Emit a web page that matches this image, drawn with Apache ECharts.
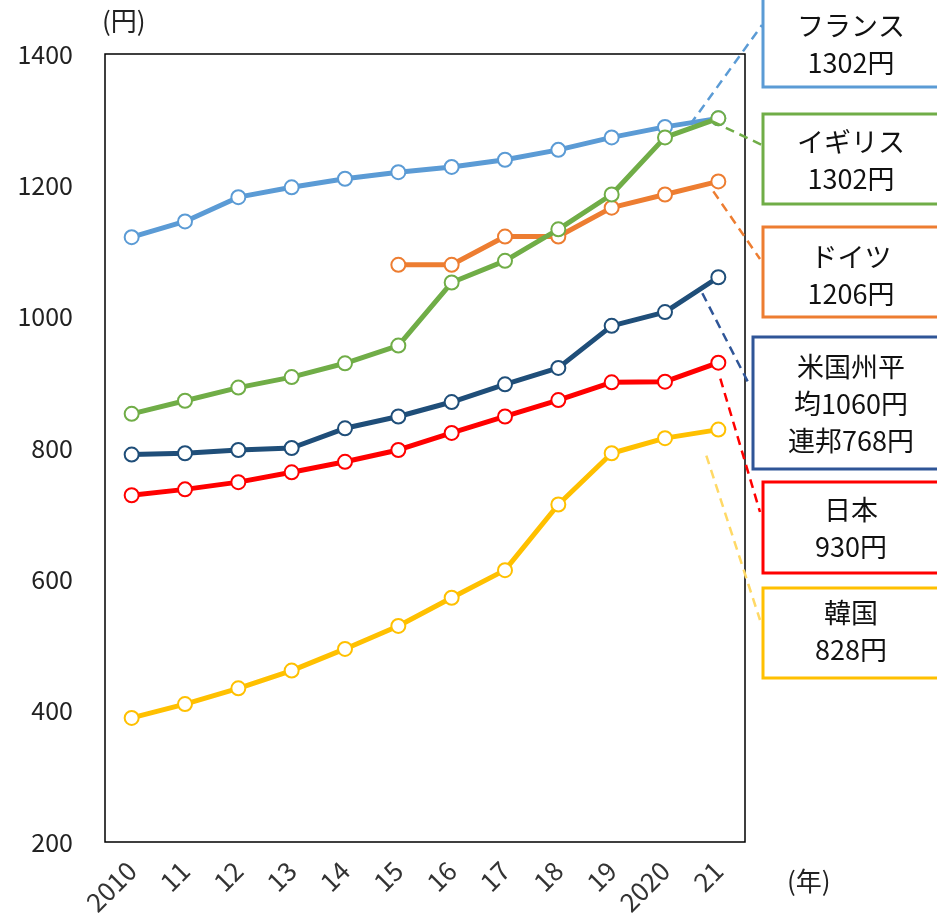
<!DOCTYPE html>
<html><head><meta charset="utf-8">
<script src="https://cdn.jsdelivr.net/npm/echarts@6/dist/echarts.min.js"></script>
<style>html,body{margin:0;padding:0;background:#fff}#c{width:937px;height:923px}</style>
</head><body><div id="c"></div>
<script>
var years = ['2010','11','12','13','14','15','16','17','18','19','2020','21'];
var yTicks = [200, 400, 600, 800, 1000, 1200, 1400];
var france  = [1121, 1145, 1182, 1197, 1210, 1220, 1228, 1239, 1254, 1273, 1289, 1302];
var germany = [null, null, null, null, null, 1079, 1079, 1122, 1122, 1166, 1186, 1206];
var usa     = [790, 792, 797, 800, 830, 848, 870, 897, 922, 986, 1007, 1060];
var japan   = [728, 737, 748, 763, 779, 797, 823, 848, 873, 900, 901, 930];
var korea   = [389, 410, 434, 461, 494, 529, 572, 614, 714, 792, 815, 828];
var uk      = [852, 872, 892, 908, 929, 956, 1052, 1085, 1133, 1186, 1273, 1302];
var boxTexts = {
  france: ['フランス', '1302円'],
  uk: ['イギリス', '1302円'],
  germany: ['ドイツ', '1206円'],
  usa: ['米国州平', '均1060円', '連邦768円'],
  japan: ['日本', '930円'],
  korea: ['韓国', '828円']
};

var FONT = '"Noto Sans CJK JP", "Noto Sans", sans-serif';
var chart = echarts.init(document.getElementById('c'), null, {renderer: 'canvas'});

function lineSeries(name, data, color, z) {
  return {
    name: name, type: 'line', data: data, z: z,
    symbol: 'circle', symbolSize: 14,
    itemStyle: {color: '#fff', borderColor: color, borderWidth: 2},
    lineStyle: {color: color, width: 5},
    connectNulls: false, animation: false
  };
}

var colors = {
  france: '#5B9BD5', uk: '#70AD47', germany: '#ED7D31',
  usa: '#1F4E79', japan: '#FF0000', korea: '#FFC000'
};

chart.setOption({
  animation: false,
  grid: {left: 105, top: 54, width: 640, height: 788, show: true, borderColor: '#000', borderWidth: 1.5, backgroundColor: 'transparent'},
  xAxis: {
    type: 'category', data: years, boundaryGap: true,
    axisLine: {show: false}, axisTick: {show: false}, splitLine: {show: false},
    axisLabel: {rotate: 45, margin: 24, fontSize: 26, color: '#333', fontFamily: FONT, interval: 0},
    name: '(年)', nameLocation: 'end', nameGap: 42,
    nameTextStyle: {fontSize: 26, color: '#222', fontFamily: FONT, align: 'left', verticalAlign: 'top', padding: [26, 0, 0, 0]}
  },
  yAxis: {
    type: 'value', min: yTicks[0], max: yTicks[yTicks.length - 1], interval: 200,
    axisLine: {show: false}, axisTick: {show: false}, splitLine: {show: false},
    axisLabel: {margin: 32, fontSize: 25, color: '#222', fontFamily: FONT, formatter: function (v) { return String(v); }},
    name: '(円)', nameLocation: 'end', nameGap: 20,
    nameTextStyle: {fontSize: 26, color: '#222', fontFamily: FONT, align: 'left', padding: [0, 0, 0, -3]}
  },
  series: [
    lineSeries('フランス', france, colors.france, 2),
    lineSeries('ドイツ', germany, colors.germany, 3),
    lineSeries('米国', usa, colors.usa, 3),
    lineSeries('日本', japan, colors.japan, 3),
    lineSeries('韓国', korea, colors.korea, 3),
    lineSeries('イギリス', uk, colors.uk, 4)
  ]
});

// annotation boxes and leader lines
var last = years.length - 1;
var ann = [
  {data: france, box: [763, -10, 200, 97], text: 'france', stroke: '#5B9BD5', dash: '#5B9BD5', from: [-28, 6], to: [762, 25], ty: 26},
  {data: uk, box: [763, 114, 200, 90], text: 'uk', stroke: '#70AD47', dash: '#70AD47', from: [-6, 3], to: [762, 145], ty: 142},
  {data: germany, box: [763, 227, 200, 90], text: 'germany', stroke: '#ED7D31', dash: '#ED7D31', from: [-5, 10], to: [760, 259], ty: 257},
  {data: usa, box: [753, 337, 210, 132], text: 'usa', stroke: '#2F5597', dash: '#2F5597', from: [-16, 16], to: [749, 384], ty: 367},
  {data: japan, box: [763, 482, 200, 91], text: 'japan', stroke: '#FF0000', dash: '#FF0000', from: [2, 16], to: [760, 512], ty: 510},
  {data: korea, box: [763, 588, 200, 90], text: 'korea', stroke: '#FFC000', dash: '#FFD966', from: [-12, 26], to: [760, 620], ty: 613}
];
var g = [];
ann.forEach(function (a) {
  var p = chart.convertToPixel({xAxisIndex: 0, yAxisIndex: 0}, [last, a.data[last]]);
  g.push({
    type: 'line', z: 5,
    shape: {x1: p[0] + a.from[0], y1: p[1] + a.from[1], x2: a.to[0], y2: a.to[1]},
    style: {stroke: a.dash, lineWidth: 2.5, lineDash: [9, 6]}
  });
  g.push({
    type: 'rect', z: 6,
    shape: {x: a.box[0], y: a.box[1], width: a.box[2], height: a.box[3]},
    style: {fill: '#fff', stroke: a.stroke, lineWidth: 3}
  });
  var lines = boxTexts[a.text];
  lines.forEach(function (t, i) {
    g.push({
      type: 'text', z: 7,
      style: {text: t, x: 851, y: a.ty + i * 37, textAlign: 'center', textVerticalAlign: 'middle',
        fontSize: 27, fontFamily: FONT, fill: '#111'}
    });
  });
});
chart.setOption({graphic: g});
</script>
</body></html>
